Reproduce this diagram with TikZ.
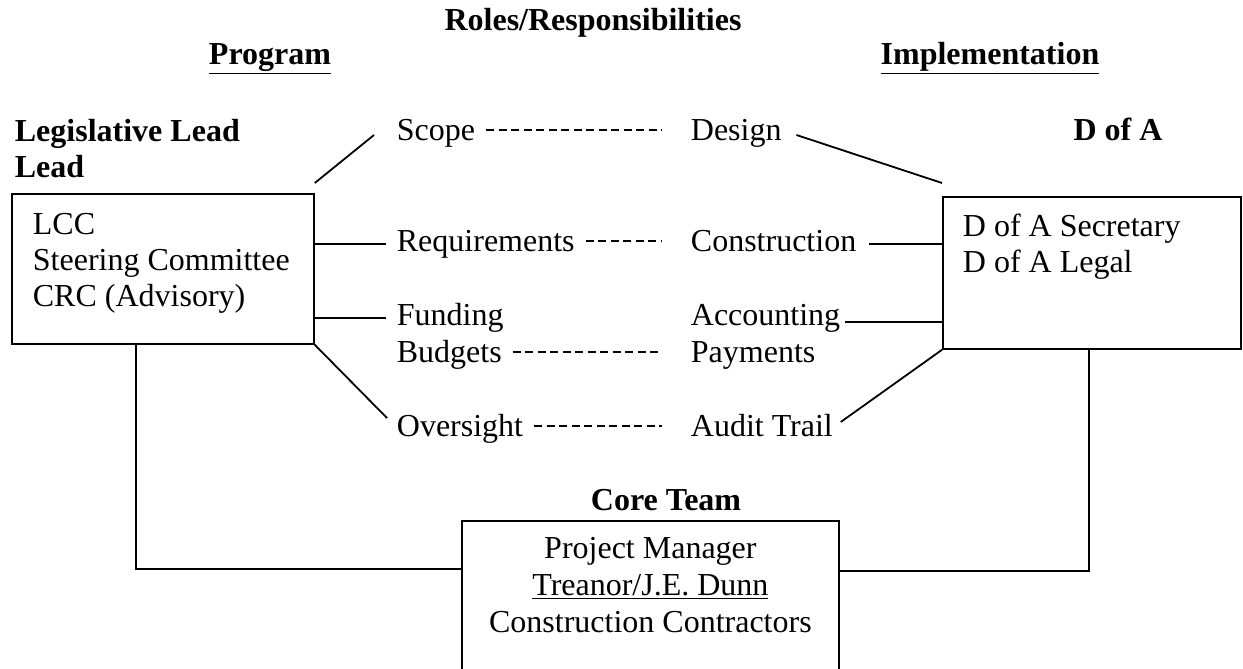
\documentclass[tikz,border=0pt]{standalone}
\usepackage{fontspec}
\setmainfont{Liberation Serif}
\usetikzlibrary{positioning}

\begin{document}
\begin{tikzpicture}[
  x=1pt, y=-1pt,
  font=\fontsize{32}{36}\selectfont,
  line width=1.8pt,
  head/.style={font=\fontsize{32}{36}\selectfont\bfseries, inner sep=0pt},
  lab/.style={anchor=base west, inner sep=4pt, text height=22pt, text depth=8pt},
  box/.style={draw, anchor=north west, align=flush left, inner ysep=0pt},
  dashlink/.style={dash pattern=on 8pt off 4.5pt, line width=1.8pt, shorten <=6pt, shorten >=24pt, transform canvas={yshift=3pt}},
]
\useasboundingbox (0,0) rectangle (1243,669);
\clip (0,0) rectangle (1243,669);

\node[head, anchor=base] (roles) at (593,31) {Roles/Responsibilities};
\node[head, anchor=base] (program) at (270,65) {\underline{Program}};
\node[head, anchor=base] (impl) at (990,65) {\underline{Implementation}};
\node[head, anchor=north west, align=flush left] (leg) at (14,118) {Legislative Lead\\Lead};
\node[head, anchor=base] (doahead) at (1118,140) {D of A};
\node[head, anchor=base] (coreteam) at (666,510) {Core Team};

\node[box, text width=260pt, inner xsep=21pt, text height=41pt, text depth=109pt] (lcc) at (11,193) {LCC\\Steering Committee\\CRC (Advisory)};
\node[box, text width=258pt, inner xsep=20pt, text height=40pt, text depth=112pt] (doa) at (942,196) {D of A Secretary\\D of A Legal};
\node[box, align=flush center, text width=357pt, inner xsep=10pt, text height=38pt, text depth=130pt, font=\fontsize{32}{37}\selectfont] (core) at (461,520) {Project Manager\\\underline{Treanor/J.E. Dunn}\\Construction Contractors};

\node[lab] (scope) at (392,140) {Scope};
\node[lab] (design) at (686,140) {Design};
\node[lab] (req) at (392,251) {Requirements};
\node[lab] (constr) at (686,251) {Construction};
\node[lab] (fund) at (392,325) {Funding};
\node[lab] (budget) at (392,362) {Budgets};
\node[lab] (acct) at (686,325) {Accounting};
\node[lab] (pay) at (686,362) {Payments};
\node[lab] (over) at (392,436) {Oversight};
\node[lab] (audit) at (686,436) {Audit Trail};
\coordinate (acctend) at ([yshift=-4pt]acct.east);

\draw ([yshift=10pt]lcc.north east) -- ([xshift=-18pt,yshift=-2pt]scope.west);
\draw ([xshift=10pt,yshift=-2pt]design.east) -- ([yshift=13pt]doa.north west);
\draw (lcc.east |- req.west) -- ([xshift=-6pt]req.west);
\draw ([xshift=8pt]constr.east) -- (doa.west |- constr.east);
\draw (lcc.east |- fund.west) -- ([xshift=-6pt]fund.west);
\draw (acctend) -- (doa.west |- acctend);
\draw (lcc.south east) -- ([xshift=-5pt,yshift=11pt]over.west);
\draw ([xshift=3pt,yshift=7pt]audit.east) -- (doa.south west);

\draw[dashlink] (scope) -- (design);
\draw[dashlink] (req) -- (constr);
\draw[dashlink] (budget) -- (pay);
\draw[dashlink] (over) -- (audit);

\draw ([xshift=125pt]lcc.south west) |- ([yshift=-49pt]core.north west);
\draw ([xshift=147pt]doa.south west) |- ([yshift=-51pt]core.north east);
\end{tikzpicture}
\end{document}
